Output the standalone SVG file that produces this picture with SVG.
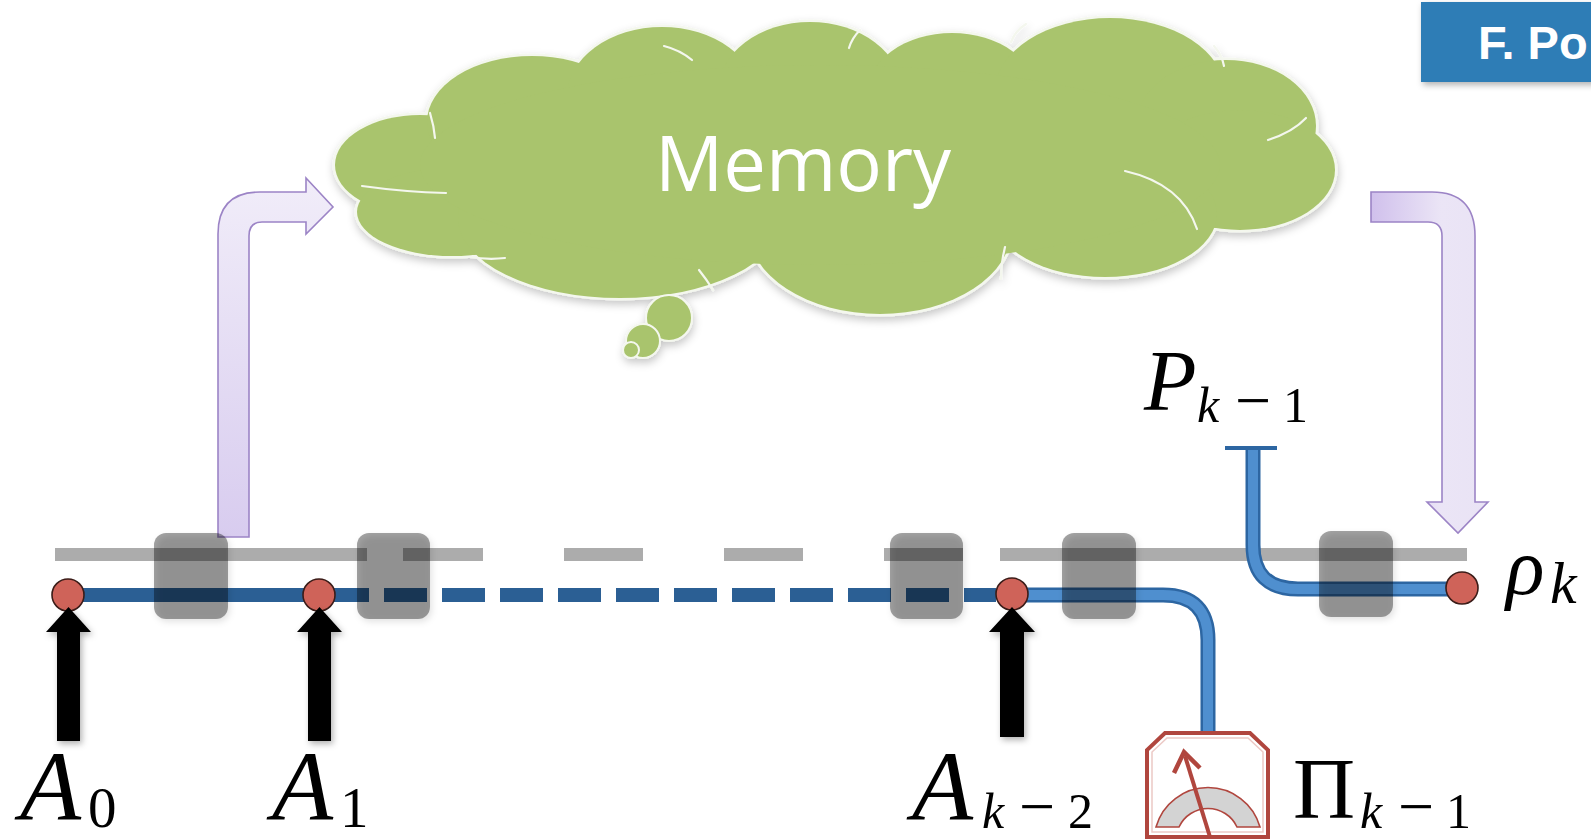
<svg xmlns="http://www.w3.org/2000/svg" width="1591" height="840" viewBox="0 0 1591 840">
  <defs>
    <filter id="shadow" x="-20%" y="-20%" width="140%" height="140%">
      <feDropShadow dx="2" dy="3" stdDeviation="3" flood-color="#000" flood-opacity="0.3"/>
    </filter>
    <filter id="softshadow" x="-10%" y="-10%" width="120%" height="130%">
      <feDropShadow dx="1" dy="4" stdDeviation="4" flood-color="#000" flood-opacity="0.22"/>
    </filter>
    <linearGradient id="purpleUp" x1="0" y1="0" x2="0" y2="1">
      <stop offset="0" stop-color="#f1edf9"/>
      <stop offset="1" stop-color="#d8ccef"/>
    </linearGradient>
    <linearGradient id="purpleDown" x1="0" y1="0" x2="1" y2="0">
      <stop offset="0" stop-color="#d0c0ec"/>
      <stop offset="0.6" stop-color="#ebe5f6"/>
      <stop offset="1" stop-color="#e9e3f5"/>
    </linearGradient>
    <style>
      .rail { fill: #acacac; }
      .box { fill: #000; fill-opacity: 0.36; }
      .node { fill: #cf6359; stroke: #3b1c18; stroke-width: 1.6; }
      .push { fill: #000; }
      .lobe { fill: #a9c46d; }
      .lobeEdge { fill: none; stroke: #f4f7ee; stroke-width: 5; }
      .crease { fill: none; stroke: #f4f7ee; stroke-width: 2.2; stroke-linecap: round; }
      .bubble { fill: #a9c46d; stroke: #f4f7ee; stroke-width: 2; }
      .bend { stroke: #9c84c6; stroke-width: 1.6; }
      .wireOut { fill: none; stroke: #2d66a2; stroke-width: 15; }
      .wireIn { fill: none; stroke: #4f8fcf; stroke-width: 10; }
      .meter { stroke: #b0463e; }
    </style>
  </defs>

  <!-- author badge -->
  <g id="badge">
    <rect x="1421" y="2" width="200" height="80" fill="#2f7db6" filter="url(#shadow)"/>
    <text x="1478" y="59" font-family="'Liberation Sans', Arial, sans-serif" font-weight="bold" font-size="47" fill="#fff">F. Po</text>
  </g>

  <!-- memory cloud -->
  <g id="memory" filter="url(#softshadow)">
    <g class="lobeEdge">
      <ellipse cx="420" cy="165" rx="85" ry="50"/>
      <ellipse cx="452" cy="212" rx="95" ry="44"/>
      <ellipse cx="532" cy="122" rx="105" ry="66"/>
      <ellipse cx="662" cy="97" rx="95" ry="70"/>
      <ellipse cx="810" cy="92" rx="92" ry="70"/>
      <ellipse cx="952" cy="96" rx="86" ry="63"/>
      <ellipse cx="1110" cy="92" rx="115" ry="74"/>
      <ellipse cx="1226" cy="126" rx="90" ry="66"/>
      <ellipse cx="1240" cy="170" rx="95" ry="60"/>
      <ellipse cx="1105" cy="214" rx="112" ry="63"/>
      <ellipse cx="880" cy="228" rx="132" ry="86"/>
      <ellipse cx="620" cy="218" rx="162" ry="80"/>
    </g>
    <g class="lobe">
      <ellipse cx="420" cy="165" rx="85" ry="50"/>
      <ellipse cx="452" cy="212" rx="95" ry="44"/>
      <ellipse cx="532" cy="122" rx="105" ry="66"/>
      <ellipse cx="662" cy="97" rx="95" ry="70"/>
      <ellipse cx="810" cy="92" rx="92" ry="70"/>
      <ellipse cx="952" cy="96" rx="86" ry="63"/>
      <ellipse cx="1110" cy="92" rx="115" ry="74"/>
      <ellipse cx="1226" cy="126" rx="90" ry="66"/>
      <ellipse cx="1240" cy="170" rx="95" ry="60"/>
      <ellipse cx="1105" cy="214" rx="112" ry="63"/>
      <ellipse cx="880" cy="228" rx="132" ry="86"/>
      <ellipse cx="620" cy="218" rx="162" ry="80"/>
      <ellipse cx="820" cy="165" rx="400" ry="100"/>
    </g>
    <g class="crease">
      <path d="M362,186 Q405,192 446,193"/>
      <path d="M430,113 Q434,126 435,138"/>
      <path d="M664,46 Q680,50 692,60"/>
      <path d="M860,30 Q852,38 849,48"/>
      <path d="M1026,24 Q1015,31 1011,42"/>
      <path d="M1214,46 Q1222,55 1224,66"/>
      <path d="M1306,118 Q1293,132 1268,140"/>
      <path d="M1125,171 Q1182,184 1197,229"/>
      <path d="M1005,247 Q1001,263 1001,279"/>
      <path d="M699,270 Q707,280 713,290"/>
      <path d="M470,257 Q488,260 505,258"/>
    </g>
    <circle class="bubble" cx="669" cy="318" r="23"/>
    <circle class="bubble" cx="643" cy="341" r="17"/>
    <circle class="bubble" cx="631" cy="350" r="8"/>
    <text x="803" y="191" text-anchor="middle" font-family="'Open Sans', 'Liberation Sans', sans-serif" font-size="76" fill="#fff">Memory</text>
  </g>

  <!-- arrows to and from memory -->
  <g id="to-memory">
    <path class="bend" fill="url(#purpleUp)" d="M218,537 L218,234 Q218,192 260,192 L306,192 L306,178 L333,207 L306,234 L306,222 L262,222 Q249,222 249,236 L249,537 Z"/>
  </g>
  <g id="from-memory">
    <path class="bend" fill="url(#purpleDown)" d="M1371,192 L1432,192 Q1475,192 1475,236 L1475,502 L1488,502 L1458,533 L1427,502 L1442,502 L1442,236 Q1442,222 1428,222 L1371,222 Z"/>
  </g>

  <!-- connectors: rails, wires, pulses -->
  <g id="connectors">
    <g class="rail">
      <rect x="55" y="548" width="312" height="13"/>
      <rect x="403" y="548" width="80" height="13"/>
      <rect x="564" y="548" width="79" height="13"/>
      <rect x="724" y="548" width="79" height="13"/>
      <rect x="884" y="548" width="79" height="13"/>
      <rect x="1000" y="548" width="467" height="13"/>
    </g>
    <line x1="68" y1="595" x2="369" y2="595" stroke="#2b5f94" stroke-width="14"/>
    <line x1="384" y1="595" x2="996" y2="595" stroke="#2b5f94" stroke-width="14" stroke-dasharray="43 15"/>
    <path class="wireOut" d="M1012,595 H1163 Q1208,595 1208,640 V735"/>
    <path class="wireIn" d="M1012,595 H1163 Q1208,595 1208,640 V735"/>
    <path class="wireOut" d="M1253,448 V545 Q1253,589 1298,589 H1462"/>
    <path class="wireIn" d="M1253,448 V545 Q1253,589 1298,589 H1462"/>
    <rect x="1225" y="446" width="52" height="4" fill="#2d66a2"/>
  </g>

  <!-- processing boxes -->
  <g id="boxes" filter="url(#shadow)">
    <rect class="box" x="154" y="533" width="74" height="86" rx="12"/>
    <rect class="box" x="357" y="533" width="73" height="86" rx="12"/>
    <rect class="box" x="890" y="533" width="73" height="86" rx="12"/>
    <rect class="box" x="1062" y="533" width="74" height="86" rx="12"/>
    <rect class="box" x="1319" y="531" width="74" height="86" rx="12"/>
  </g>

  <!-- state nodes -->
  <g id="node-0"><circle class="node" cx="68" cy="595" r="16"/></g>
  <g id="node-1"><circle class="node" cx="319" cy="595" r="16"/></g>
  <g id="node-k2"><circle class="node" cx="1012" cy="594" r="16"/></g>
  <g id="node-rho"><circle class="node" cx="1462" cy="588" r="16"/></g>

  <!-- control pulses -->
  <g id="pulses" filter="url(#shadow)">
    <polygon class="push" points="57,741 57,632 46,632 68.5,607 91,632 80,632 80,741"/>
    <polygon class="push" points="308,741 308,632 297,632 319.5,607 342,632 331,632 331,741"/>
    <polygon class="push" points="1000,737 1000,632 989,632 1012,607 1035,632 1024,632 1024,737"/>
  </g>

  <!-- measurement -->
  <g id="meter">
    <path class="meter" d="M1147,837 V750 L1165,733 H1250 L1268,750 V837 Z" fill="#fff" stroke-width="4"/>
    <path d="M1152,832 V752 L1167,738 H1248 L1263,752 V832 Z" fill="none" stroke="#ecc9c5" stroke-width="1.5"/>
    <path class="meter" d="M1156,827 A54,54 0 0 1 1260,827 L1237,827 A32,32 0 0 0 1179,827 Z" fill="#d3d3d3" stroke-width="1.6"/>
    <line class="meter" x1="1210" y1="837" x2="1185" y2="756" stroke-width="4"/>
    <polyline class="meter" points="1174,773 1184,752 1200,768" fill="none" stroke-width="4.5" stroke-linejoin="miter"/>
  </g>

  <!-- labels -->
  <g id="label-A0">
    <text x="20" y="820" font-family="'Liberation Serif', 'DejaVu Serif', serif" font-style="italic" font-size="100">A</text>
    <text x="88" y="827" font-family="'Liberation Serif', 'DejaVu Serif', serif" font-size="57">0</text>
  </g>
  <g id="label-A1">
    <text x="272" y="820" font-family="'Liberation Serif', 'DejaVu Serif', serif" font-style="italic" font-size="100">A</text>
    <text x="340" y="827" font-family="'Liberation Serif', 'DejaVu Serif', serif" font-size="57">1</text>
  </g>
  <g id="label-Ak2" font-family="'Liberation Serif', 'DejaVu Serif', serif">
    <text x="912" y="820" font-style="italic" font-size="100">A</text>
    <text x="982" y="828" font-style="italic" font-size="50">k</text>
    <text x="1019" y="828" font-size="64">−</text>
    <text x="1068" y="828" font-size="50">2</text>
  </g>
  <g id="label-Pi" font-family="'Liberation Serif', 'DejaVu Serif', serif">
    <text x="1293" y="818" font-size="86">Π</text>
    <text x="1360" y="828" font-size="50" font-style="italic">k</text>
    <text x="1398" y="828" font-size="64">−</text>
    <text x="1446" y="828" font-size="50">1</text>
  </g>
  <g id="label-P" font-family="'Liberation Serif', 'DejaVu Serif', serif">
    <text x="1144" y="410" font-style="italic" font-size="86">P</text>
    <text x="1197" y="422" font-size="50" font-style="italic">k</text>
    <text x="1235" y="422" font-size="64">−</text>
    <text x="1283" y="422" font-size="50">1</text>
  </g>
  <g id="label-rho" font-family="'Liberation Serif', 'DejaVu Serif', serif" font-style="italic">
    <text x="1506" y="594" font-size="80">ρ</text>
    <text x="1550" y="603" font-size="60">k</text>
  </g>
</svg>
